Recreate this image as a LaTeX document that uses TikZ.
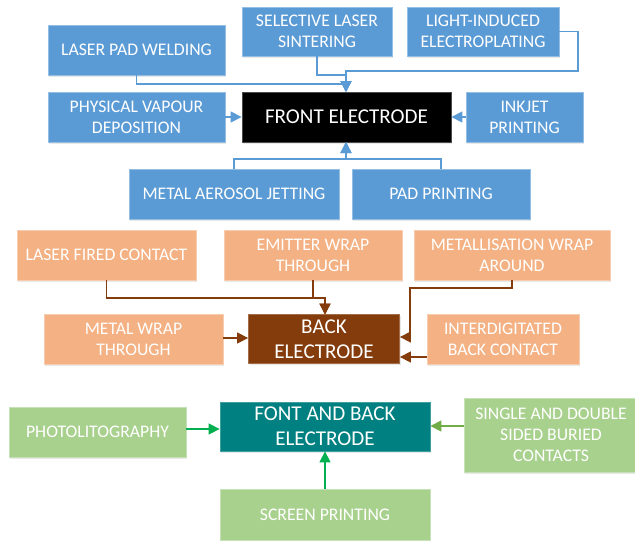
\documentclass[tikz,border=0pt]{standalone}
\usepackage{fontspec}
\setmainfont{Carlito}
\usetikzlibrary{arrows.meta,shadows}
\definecolor{cblue}{HTML}{5B9BD5}
\definecolor{corange}{HTML}{F4B183}
\definecolor{cbrown}{HTML}{843C0C}
\definecolor{cteal}{HTML}{008080}
\definecolor{cgreen}{HTML}{A9D18E}
\definecolor{cgarrow}{HTML}{00B050}
\definecolor{cgarrowb}{HTML}{70AD47}
\newcommand\fsmall{\fontsize{17.7}{21}\selectfont}
\newcommand\fbig{\fontsize{21.1}{25}\selectfont}
\tikzset{
  box/.style={rectangle, inner sep=1pt, align=center, text=white, font=\fsmall,
    line width=0.8pt, drop shadow={shadow xshift=1.2pt, shadow yshift=-1.5pt, opacity=0.18, fill=gray}},
  bluebox/.style={box, fill=cblue, draw=cblue!65!white},
  orangebox/.style={box, fill=corange, draw=corange!65!white},
  greenbox/.style={box, fill=cgreen, draw=cgreen!65!white},
  bigbox/.style={box, font=\fbig},
  conn/.style={line width=1.4pt, -{Triangle[length=11pt,width=11pt]}},
  bconn/.style={conn, draw=cblue, color=cblue},
  oconn/.style={conn, draw=cbrown, color=cbrown},
  gconn/.style={conn, draw=cgarrow, color=cgarrow},
  gconnb/.style={conn, draw=cgarrowb, color=cgarrowb},
}
\begin{document}
\begin{tikzpicture}[x=1pt,y=-1pt]
\useasboundingbox (0,0) rectangle (635,541);
% ---- front electrode group
\node[bluebox, minimum width=177pt, minimum height=50pt] (lpw) at (136.5,50) {LASER PAD WELDING};
\node[bluebox, minimum width=150pt, minimum height=49pt] (sls) at (317,31.5) {SELECTIVE LASER\\SINTERING};
\node[bluebox, minimum width=152pt, minimum height=49pt] (lie) at (483,31.5) {LIGHT-INDUCED\\ELECTROPLATING};
\node[bluebox, minimum width=177pt, minimum height=50pt] (pvd) at (136.5,117) {PHYSICAL VAPOUR\\DEPOSITION};
\node[bigbox, fill=black, draw=black!70!white, minimum width=209pt, minimum height=50pt] (front) at (346.5,117) {FRONT ELECTRODE};
\node[bluebox, minimum width=117pt, minimum height=50pt] (ink) at (524.5,117) {INKJET\\PRINTING};
\node[bluebox, minimum width=210pt, minimum height=50pt] (mae) at (234,194) {METAL AEROSOL JETTING};
\node[bluebox, minimum width=178pt, minimum height=50pt] (pp) at (441,194) {PAD PRINTING};
\coordinate (ftop) at (346,92);
\coordinate (fbot) at (346,142);
\draw[bconn] (lpw.south) -- (136.5,84) -- (346,84) -- (ftop);
\draw[bconn] (sls.south) -- (317,75) -- (346,75) -- (ftop);
\draw[bconn] (lie.east) -- (578,31.5) -- (578,71) -- (346,71) -- (ftop);
\draw[bconn] (pvd.east) -- (front.west);
\draw[bconn] (ink.west) -- (front.east);
\draw[bconn] (mae.north) -- (234,159) -- (346,159) -- (fbot);
\draw[bconn] (pp.north) -- (441,159) -- (346,159) -- (fbot);
% ---- back electrode group
\node[orangebox, minimum width=179pt, minimum height=50pt] (lfc) at (106.5,255) {LASER FIRED CONTACT};
\node[orangebox, minimum width=178pt, minimum height=50pt] (ewt) at (313,255) {EMITTER WRAP\\THROUGH};
\node[orangebox, minimum width=196pt, minimum height=50pt] (mwa) at (512,255) {METALLISATION WRAP\\AROUND};
\node[orangebox, minimum width=179pt, minimum height=50pt] (mwt) at (133.5,339) {METAL WRAP\\THROUGH};
\node[bigbox, fill=cbrown, draw=cbrown!75!white, minimum width=151pt, minimum height=49pt] (back) at (324,339) {BACK\\ELECTRODE};
\node[orangebox, minimum width=152pt, minimum height=50pt] (ibc) at (503,339) {INTERDIGITATED\\BACK CONTACT};
\coordinate (btop) at (325,314.5);
\draw[oconn] (lfc.south) -- (106.5,298) -- (325,298) -- (btop);
\draw[oconn] (ewt.south) -- (313,298) -- (325,298) -- (btop);
\draw[oconn] (mwa.south) -- (512,288) -- (410,288) -- (410,337) -- (back.east |- 0,337);
\draw[oconn] (mwt.east |- 0,338) -- (back.west |- 0,338);
\draw[oconn] (ibc.west |- 0,357) -- (back.east |- 0,357);
% ---- front and back group
\node[greenbox, minimum width=177pt, minimum height=50pt] (pho) at (97.5,432) {PHOTOLITOGRAPHY};
\node[bigbox, fill=cteal, draw=cteal!75!white, minimum width=210pt, minimum height=49pt] (fab) at (325,426.5) {FONT AND BACK\\ELECTRODE};
\node[greenbox, minimum width=174pt, minimum height=74pt] (sdb) at (551,435) {SINGLE AND DOUBLE\\SIDED BURIED\\CONTACTS};
\node[greenbox, minimum width=210pt, minimum height=51pt] (scr) at (325,514.5) {SCREEN PRINTING};
\draw[gconn] (pho.east |- 0,429) -- (fab.west |- 0,429);
\draw[gconnb] (sdb.west |- 0,426) -- (fab.east |- 0,426);
\draw[gconn] (scr.north) -- (fab.south);
\end{tikzpicture}
\end{document}
